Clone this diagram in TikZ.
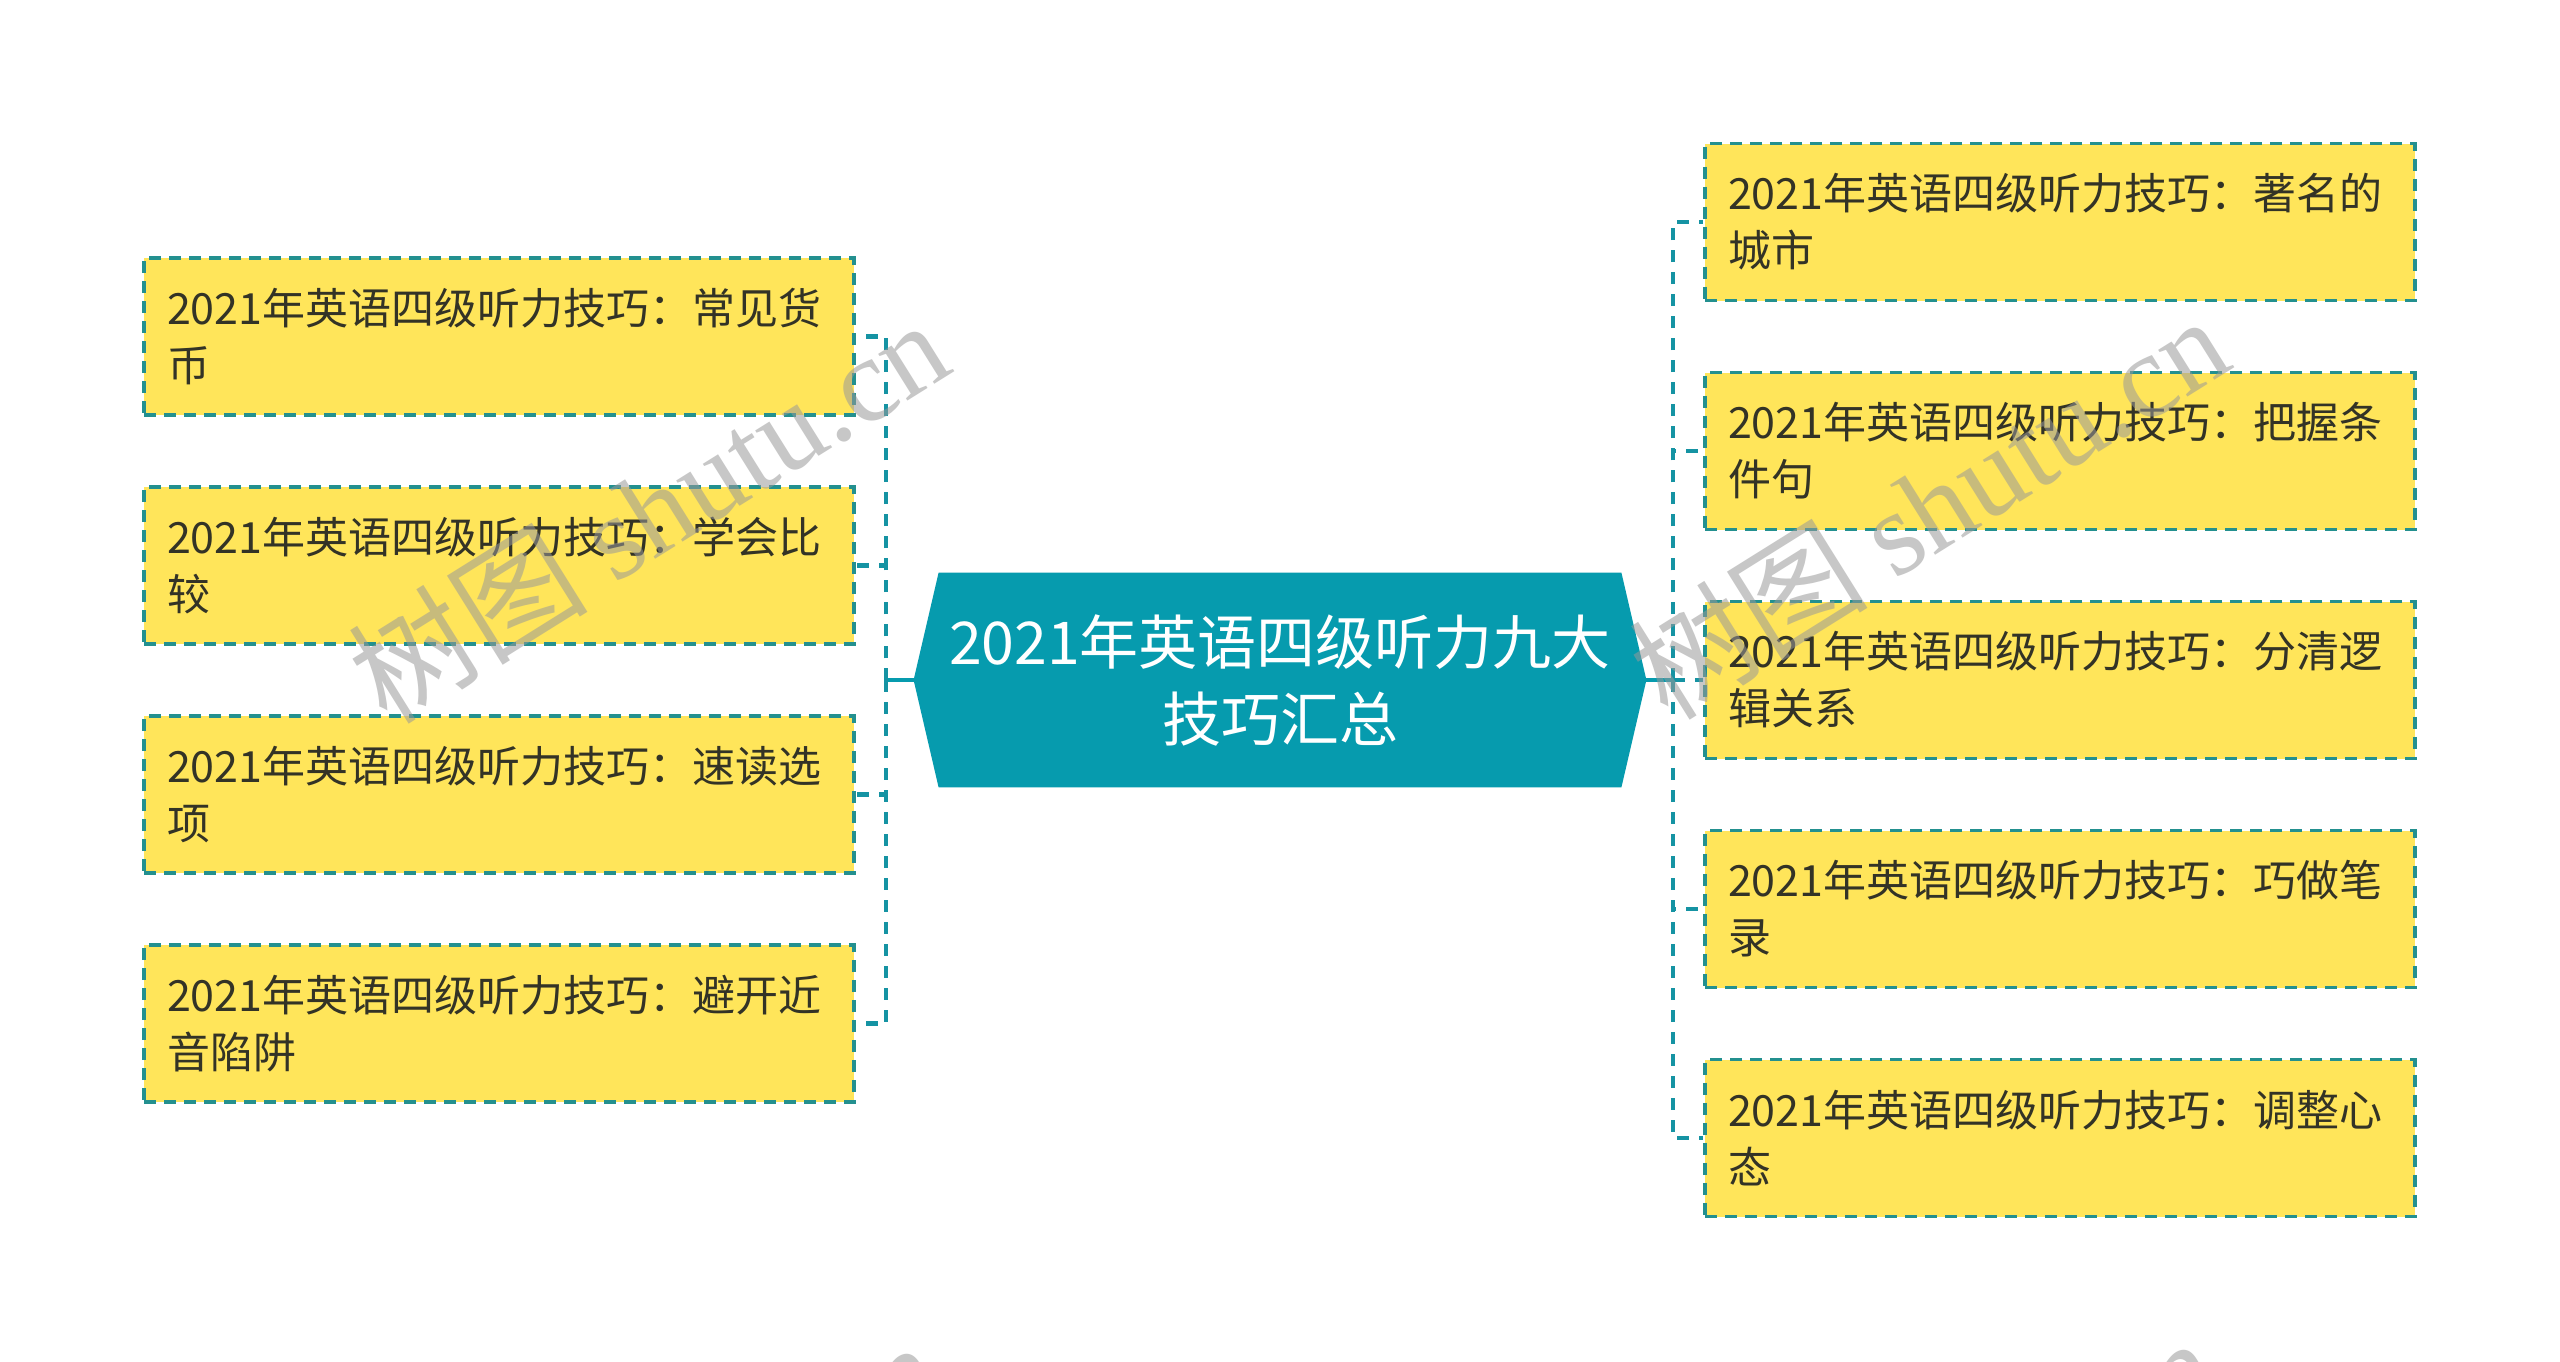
\documentclass[tikz,border=0pt]{standalone}
\usepackage{fontspec}
\setmainfont{Noto Sans CJK SC}
\newfontfamily\wmfont{Liberation Serif}
\usetikzlibrary{calc}
\definecolor{hexfill}{HTML}{069BAE}
\definecolor{leaffill}{HTML}{FFE55A}
\definecolor{leafline}{HTML}{23908F}
\definecolor{linkcol}{HTML}{1593A3}
\definecolor{txt}{HTML}{333326}
\begin{document}
\begin{tikzpicture}[x=0.5pt,y=-0.5pt,
  leaf/.style={draw=leafline, line width=1.6pt, dash pattern=on 6pt off 4pt,
    fill=leaffill, minimum width=355pt, minimum height=78.5pt, inner xsep=11.5pt,
    inner ysep=0pt, text width=332pt, align=left, text=txt,
    font=\fontsize{21.5}{28.5}\selectfont},
  hexbox/.style={minimum width=366pt, minimum height=107pt, inner sep=0pt},
  hextext/.style={align=center, text=white, inner sep=0pt,
    font=\fontsize{29.5}{38.5}\selectfont},
  hub/.style={draw=hexfill, line width=2.2pt},
  link/.style={draw=linkcol, line width=2.2pt, dash pattern=on 6pt off 5pt},
  wm/.style={text=black!40, text opacity=0.55, inner sep=0pt,
    font=\fontsize{60}{64}\selectfont, rotate=32}]
\useasboundingbox (0,0) rectangle (2560,1361);
\clip (0,0) rectangle (2560,1361);
\fill[white] (0,0) rectangle (2560,1361);

% central node
\node[hexbox] (c) at (1280,680) {};
\fill[hexfill] (c.west) -- ($(c.north west)+(25,0)$) -- ($(c.north east)+(-25,0)$)
  -- (c.east) -- ($(c.south east)+(-25,0)$) -- ($(c.south west)+(25,0)$) -- cycle;
\node[hextext] (ct) at (c) {2021年英语四级听力九大\\技巧汇总};

% left leaves
\node[leaf] (l1) at (499,336.5) {2021年英语四级听力技巧：常见货\\币};
\node[leaf] (l2) at (499,565.5) {2021年英语四级听力技巧：学会比\\较};
\node[leaf] (l3) at (499,794.5) {2021年英语四级听力技巧：速读选\\项};
\node[leaf] (l4) at (499,1023.5) {2021年英语四级听力技巧：避开近\\音陷阱};

% right leaves
\node[leaf] (r1) at (2060,222) {2021年英语四级听力技巧：著名的\\城市};
\node[leaf] (r2) at (2060,451) {2021年英语四级听力技巧：把握条\\件句};
\node[leaf] (r3) at (2060,680) {2021年英语四级听力技巧：分清逻\\辑关系};
\node[leaf] (r4) at (2060,909) {2021年英语四级听力技巧：巧做笔\\录};
\node[leaf] (r5) at (2060,1138) {2021年英语四级听力技巧：调整心\\态};

% connectors
\coordinate (lh) at (886,680);
\coordinate (rh) at (1673,680);
\draw[hub] (c.west) -- (lh);
\draw[hub] (c.east) -- (rh);
\foreach \n in {l1,l2,l3,l4} \draw[link] (lh) |- (\n.east);
\foreach \n in {r1,r2,r3,r4,r5} \draw[link] (rh) |- (\n.west);

% watermarks
\node[wm] (w1) at (648,510) {树图 {\wmfont shutu.cn}};
\node[wm] (w2) at (1928,506) {树图 {\wmfont shutu.cn}};
\node[wm] (w3) at (640,1532) {树图 {\wmfont shutu.cn}};
\node[wm] (w4) at (1917,1528) {树图 {\wmfont shutu.cn}};
\end{tikzpicture}
\end{document}
